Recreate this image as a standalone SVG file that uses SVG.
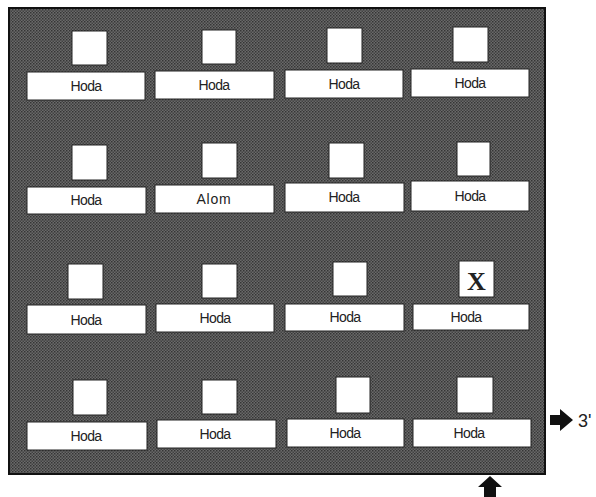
<svg xmlns="http://www.w3.org/2000/svg" width="596" height="497" viewBox="0 0 596 497">
<defs>
<pattern id="dots" width="3" height="3" patternUnits="userSpaceOnUse">
<rect width="3" height="3" fill="#6a6a6a"/>
<rect width="1.5" height="1.5" fill="#353535"/>
<rect x="1.5" y="1.5" width="1.5" height="1.5" fill="#424242"/>
</pattern>
</defs>
<style>
.sq{fill:#fff;stroke:#222;stroke-width:1}
.lb{fill:#fff;stroke:#222;stroke-width:1}
.t{font-family:"Liberation Sans",Arial,sans-serif;font-size:14px;fill:#222;text-anchor:middle;letter-spacing:-0.6px}
.arr{fill:#111}
</style>
<rect x="0" y="0" width="596" height="497" fill="#fff"/>
<rect id="panel" x="9" y="8" width="536" height="466" fill="url(#dots)" stroke="#111" stroke-width="2"/>

<g id="n11"><rect class="sq" x="72" y="31" width="35" height="34"/><rect class="lb" x="27" y="72" width="118" height="28"/><text class="t" x="86" y="91">Hoda</text></g>
<g id="n12"><rect class="sq" x="202" y="30" width="34" height="34"/><rect class="lb" x="155" y="71" width="119" height="28"/><text class="t" x="214" y="90">Hoda</text></g>
<g id="n13"><rect class="sq" x="327" y="28" width="35" height="35"/><rect class="lb" x="285" y="70" width="118" height="28"/><text class="t" x="344" y="89">Hoda</text></g>
<g id="n14"><rect class="sq" x="453" y="27" width="35" height="35"/><rect class="lb" x="411" y="69" width="118" height="28"/><text class="t" x="470" y="88">Hoda</text></g>

<g id="n21"><rect class="sq" x="72" y="145" width="35" height="35"/><rect class="lb" x="27" y="187" width="119" height="27"/><text class="t" x="86" y="205">Hoda</text></g>
<g id="n22"><rect class="sq" x="202" y="143" width="35" height="35"/><rect class="lb" x="155" y="185" width="119" height="28"/><text class="t" x="214" y="204" style="letter-spacing:0.8px">Alom</text></g>
<g id="n23"><rect class="sq" x="329" y="143" width="35" height="35"/><rect class="lb" x="285" y="183" width="119" height="29"/><text class="t" x="344" y="202">Hoda</text></g>
<g id="n24"><rect class="sq" x="457" y="142" width="33" height="34"/><rect class="lb" x="411" y="181" width="118" height="30"/><text class="t" x="470" y="201">Hoda</text></g>

<g id="n31"><rect class="sq" x="68" y="264" width="35" height="35"/><rect class="lb" x="27" y="305" width="119" height="29"/><text class="t" x="86" y="325">Hoda</text></g>
<g id="n32"><rect class="sq" x="202" y="264" width="35" height="34"/><rect class="lb" x="156" y="304" width="118" height="28"/><text class="t" x="215" y="323">Hoda</text></g>
<g id="n33"><rect class="sq" x="333" y="262" width="34" height="34"/><rect class="lb" x="285" y="304" width="119" height="27"/><text class="t" x="345" y="322">Hoda</text></g>
<g id="n34"><rect class="sq" x="459" y="261" width="35" height="36"/><text x="476.5" y="290" style="font-family:'Liberation Serif','Times New Roman',serif;font-size:26px;font-weight:bold;fill:#222;text-anchor:middle">X</text><rect class="lb" x="413" y="304" width="116" height="26"/><text class="t" x="466" y="322">Hoda</text></g>

<g id="n41"><rect class="sq" x="73" y="380" width="34" height="35"/><rect class="lb" x="27" y="422" width="120" height="28"/><text class="t" x="86" y="441">Hoda</text></g>
<g id="n42"><rect class="sq" x="202" y="380" width="35" height="34"/><rect class="lb" x="157" y="420" width="119" height="28"/><text class="t" x="215" y="439">Hoda</text></g>
<g id="n43"><rect class="sq" x="336" y="377" width="34" height="36"/><rect class="lb" x="287" y="419" width="117" height="28"/><text class="t" x="345" y="438">Hoda</text></g>
<g id="n44"><rect class="sq" x="457" y="377" width="36" height="36"/><rect class="lb" x="413" y="419" width="118" height="28"/><text class="t" x="469" y="438">Hoda</text></g>

<g id="connectors">
<polygon class="arr" points="550,415 560,415 560,409 573,420 560,431 560,425 550,425"/>
<polygon class="arr" points="490,476 502,487 496,487 496,497 484,497 484,487 478,487"/>
</g>
<text x="578" y="427" style="font-family:'Liberation Sans',Arial,sans-serif;font-size:18px;fill:#222">3'</text>
</svg>
